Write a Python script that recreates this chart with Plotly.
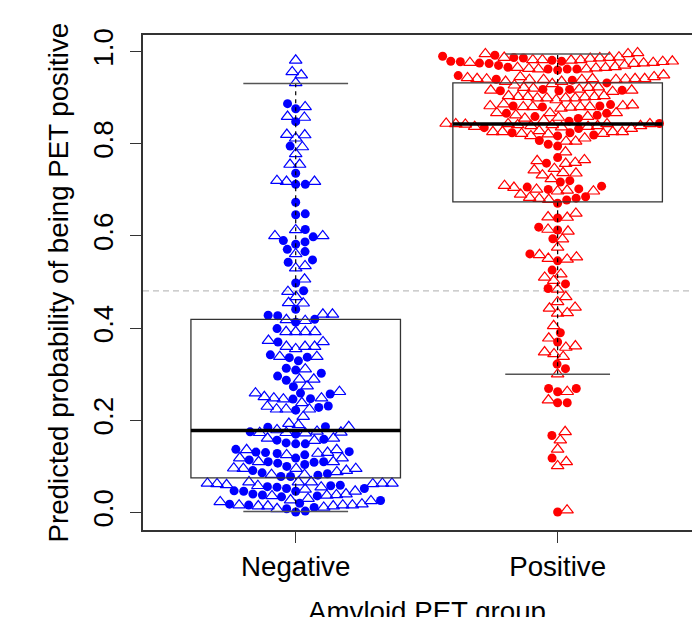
import numpy as np
import plotly.graph_objects as go

# ---------------- data ----------------
groups = ["Negative", "Positive"]
group_colors = ["#0000FF", "#FF0000"]

neg_circle = [0.887, 0.876, 0.848, 0.795, 0.736, 0.712, 0.712, 0.673, 0.648, 0.646, 0.614, 0.598,
              0.590, 0.587, 0.582, 0.571, 0.566, 0.548, 0.543, 0.498, 0.481, 0.441, 0.428, 0.427,
              0.413, 0.419, 0.399, 0.370, 0.342, 0.336, 0.329, 0.337, 0.309, 0.302, 0.313, 0.296,
              0.287, 0.273, 0.259, 0.257, 0.246, 0.247, 0.222, 0.228, 0.231, 0.186, 0.185, 0.170,
              0.175, 0.149, 0.149, 0.157, 0.151, 0.159, 0.137, 0.130, 0.125, 0.132, 0.128, 0.131,
              0.118, 0.110, 0.109, 0.107, 0.114, 0.104, 0.110, 0.084, 0.081, 0.078, 0.078, 0.086,
              0.091, 0.100, 0.059, 0.052, 0.047, 0.046, 0.056, 0.052, 0.055, 0.046, 0.058, 0.040,
              0.036, 0.034, 0.038, 0.026, 0.016, 0.008, 0.001, 0.003, 0.011, 0.018, 0.020]
neg_triangle = [0.981, 0.956, 0.949, 0.932, 0.880, 0.859, 0.857, 0.820, 0.819, 0.812, 0.793, 0.778,
                0.755, 0.755, 0.720, 0.718, 0.718, 0.613, 0.600, 0.600, 0.561, 0.535, 0.530, 0.506,
                0.479, 0.468, 0.455, 0.454, 0.430, 0.418, 0.416, 0.430, 0.392, 0.392, 0.392, 0.392,
                0.373, 0.370, 0.360, 0.360, 0.355, 0.360, 0.338, 0.338, 0.311, 0.289, 0.289, 0.274,
                0.259, 0.262, 0.251, 0.248, 0.246, 0.248, 0.238, 0.230, 0.224, 0.224, 0.224, 0.208,
                0.193, 0.186, 0.190, 0.179, 0.173, 0.176, 0.172, 0.173, 0.174, 0.161, 0.156, 0.161,
                0.136, 0.130, 0.136, 0.128, 0.125, 0.118, 0.118, 0.110, 0.110, 0.095, 0.091, 0.082,
                0.095, 0.096, 0.088, 0.095, 0.082, 0.066, 0.063, 0.063, 0.060, 0.062, 0.046, 0.055,
                0.062, 0.066, 0.050, 0.058, 0.063, 0.066, 0.038, 0.036, 0.037, 0.040, 0.025, 0.023,
                0.016, 0.014, 0.014, 0.014, 0.008, 0.011, 0.016, 0.016, 0.018, 0.027, 0.030]

pos_circle = [0.979, 0.979, 0.974, 0.970, 0.986, 0.966, 0.992, 0.990, 0.975, 0.987, 0.978, 0.981,
              0.962, 0.960, 0.962, 0.962, 0.938, 0.932, 0.948, 0.940, 0.916, 0.915, 0.918, 0.915,
              0.918, 0.880, 0.882, 0.885, 0.882, 0.866, 0.862, 0.855, 0.866, 0.859, 0.835, 0.844,
              0.849, 0.819, 0.824, 0.833, 0.817, 0.824, 0.807, 0.799, 0.795, 0.770, 0.758, 0.720,
              0.717, 0.708, 0.702, 0.701, 0.706, 0.685, 0.671, 0.678, 0.682, 0.639, 0.619, 0.613,
              0.594, 0.561, 0.546, 0.526, 0.496, 0.486, 0.390, 0.370, 0.322, 0.312, 0.269, 0.269,
              0.262, 0.238, 0.238, 0.167, 0.118, 0.001]
pos_triangle = [0.982, 0.976, 0.988, 0.982, 0.985, 0.981, 0.997, 0.987, 0.978, 0.995, 0.982, 0.986,
                0.987, 0.995, 0.974, 0.975, 0.976, 0.979, 0.962, 0.962, 0.965, 0.965, 0.967, 0.970,
                0.964, 0.963, 0.940, 0.940, 0.930, 0.927, 0.941, 0.945, 0.939, 0.941, 0.949, 0.941,
                0.945, 0.941, 0.939, 0.939, 0.935, 0.935, 0.939, 0.943, 0.923, 0.922, 0.922, 0.918,
                0.916, 0.913, 0.916, 0.920, 0.904, 0.899, 0.902, 0.899, 0.899, 0.895, 0.899, 0.901,
                0.902, 0.902, 0.904, 0.884, 0.880, 0.882, 0.886, 0.880, 0.882, 0.877, 0.880, 0.879,
                0.880, 0.867, 0.859, 0.857, 0.855, 0.867, 0.867, 0.862, 0.851, 0.833, 0.826, 0.843,
                0.843, 0.844, 0.842, 0.843, 0.839, 0.841, 0.843, 0.836, 0.841, 0.837, 0.839, 0.837,
                0.839, 0.826, 0.817, 0.821, 0.826, 0.822, 0.828, 0.822, 0.826, 0.805, 0.805, 0.812,
                0.782, 0.759, 0.763, 0.757, 0.765, 0.746, 0.743, 0.736, 0.737, 0.732, 0.724, 0.705,
                0.697, 0.697, 0.699, 0.701, 0.709, 0.690, 0.681, 0.679, 0.683, 0.641, 0.640, 0.649,
                0.610, 0.614, 0.593, 0.575, 0.554, 0.551, 0.549, 0.559, 0.517, 0.510, 0.503, 0.484,
                0.468, 0.457, 0.433, 0.445, 0.443, 0.432, 0.405, 0.378, 0.358, 0.361, 0.348, 0.344,
                0.338, 0.300, 0.262, 0.244, 0.175, 0.157, 0.137, 0.101, 0.110, 0.005]

box_q1 = [0.075, 0.674]
box_median = [0.178, 0.843]
box_q3 = [0.419, 0.932]
whisker_lo = [0.002, 0.300]
whisker_hi = [0.931, 0.995]
cutoff = 0.481

y_ticks = [0.0, 0.2, 0.4, 0.6, 0.8, 1.0]
y_tick_labels = ["0.0", "0.2", "0.4", "0.6", "0.8", "1.0"]

x_title = "Amyloid PET group"
y_title = "Predicted probability of being PET positive"

# ---------------- layout constants ----------------
W, H = 692, 617
ML, MR, MT, MB = 143, 0, 35, 87
X_RANGE = [0.417, 2.513]
Y_RANGE = [-0.038, 1.036]
px_per_x = (W - ML - MR) / (X_RANGE[1] - X_RANGE[0])
px_per_y = (H - MT - MB) / (Y_RANGE[1] - Y_RANGE[0])
SPACING = 9.6  # px between point centres (beeswarm "swarm" method)


def swarm_offsets(values):
    """R beeswarm 'swarm' method, ascending priority; returns x offsets in data units."""
    ys = np.asarray(values, dtype=float) * px_per_y
    order = np.argsort(ys, kind="stable")
    xs = np.zeros(len(ys))
    placed = []
    for idx in order:
        yi = ys[idx]
        pre = [(xs[j], ys[j]) for j in placed if abs(yi - ys[j]) < SPACING]
        if pre:
            pre.sort(key=lambda p: abs(p[0]))
            offs = [np.sqrt(SPACING ** 2 - (yi - py) ** 2) for _, py in pre]
            cands = [0.0] + [p[0] + o for p, o in zip(pre, offs)] + [p[0] - o for p, o in zip(pre, offs)]
            best, bestv = None, np.inf
            for c in cands:
                bad = any(((c - px) ** 2 + (yi - py) ** 2) < 0.999 * SPACING ** 2 for px, py in pre)
                if not bad and abs(c) < bestv - 1e-9:
                    best, bestv = c, abs(c)
            xs[idx] = best
        else:
            xs[idx] = 0.0
        placed.append(idx)
    return xs / px_per_x


FONT = "Liberation Sans, Arial, Helvetica, sans-serif"
FS = 27.7

fig = go.Figure()

series = [(neg_circle, neg_triangle), (pos_circle, pos_triangle)]
for gi, (circ, tri) in enumerate(series):
    centre = gi + 1
    allv = list(circ) + list(tri)
    offs = swarm_offsets(allv)
    oc = offs[:len(circ)]
    ot = offs[len(circ):]
    col = group_colors[gi]
    fig.add_trace(go.Scatter(
        x=centre + oc, y=circ, mode="markers", showlegend=False, hoverinfo="y",
        marker=dict(symbol="circle", size=9, color=col, line=dict(width=0)),
        cliponaxis=False))
    fig.add_trace(go.Scatter(
        x=centre + ot, y=tri, mode="markers", showlegend=False, hoverinfo="y",
        marker=dict(symbol="triangle-up-open", size=11, color=col, line=dict(width=1.2, color=col)),
        cliponaxis=False))

shapes = []
# cutoff line
shapes.append(dict(type="line", xref="paper", yref="y", x0=0, x1=1, y0=cutoff, y1=cutoff,
                   line=dict(color="#BEBEBE", width=1.2, dash="6px,4px"), layer="below"))
for gi in range(len(groups)):
    c = gi + 1
    shapes += [
        dict(type="line", xref="x", yref="y", x0=c, x1=c, y0=box_q3[gi], y1=whisker_hi[gi],
             line=dict(color="black", width=1.2, dash="4px,4px"), layer="above"),
        dict(type="line", xref="x", yref="y", x0=c, x1=c, y0=whisker_lo[gi], y1=box_q1[gi],
             line=dict(color="black", width=1.2, dash="4px,4px"), layer="above"),
        dict(type="line", xref="x", yref="y", x0=c - 0.2, x1=c + 0.2, y0=whisker_hi[gi], y1=whisker_hi[gi],
             line=dict(color="#555555", width=1.5), layer="above"),
        dict(type="line", xref="x", yref="y", x0=c - 0.2, x1=c + 0.2, y0=whisker_lo[gi], y1=whisker_lo[gi],
             line=dict(color="#555555", width=1.5), layer="above"),
        dict(type="rect", xref="x", yref="y", x0=c - 0.4, x1=c + 0.4, y0=box_q1[gi], y1=box_q3[gi],
             line=dict(color="#333333", width=1.3), fillcolor="rgba(0,0,0,0)", layer="above"),
        dict(type="line", xref="x", yref="y", x0=c - 0.4, x1=c + 0.4, y0=box_median[gi], y1=box_median[gi],
             line=dict(color="black", width=3.5), layer="above"),
    ]

annotations = [
    dict(text=y_title, xref="paper", yref="paper", x=(58 - ML) / (W - ML - MR), y=0.5,
         xanchor="center", yanchor="middle", textangle=-90, showarrow=False,
         font=dict(family=FONT, size=FS, color="black")),
    dict(text=x_title, xref="x", yref="paper", x=1.5, y=-(594 - (H - MB)) / (H - MT - MB),
         xanchor="center", yanchor="top", showarrow=False,
         font=dict(family=FONT, size=FS, color="black")),
]

fig.update_layout(
    width=W, height=H,
    margin=dict(l=ML, r=MR, t=MT, b=MB, pad=0),
    paper_bgcolor="white", plot_bgcolor="white",
    font=dict(family=FONT, size=FS, color="black"),
    shapes=shapes, annotations=annotations,
    xaxis=dict(range=X_RANGE, tickmode="array", tickvals=[1, 2], ticktext=groups,
               ticks="outside", ticklen=11, tickwidth=1.3, tickcolor="#333333",
               showline=True, linecolor="#333333", linewidth=1.5, mirror=True,
               showgrid=False, zeroline=False, tickfont=dict(family=FONT, size=FS, color="black")),
    yaxis=dict(range=Y_RANGE, tickmode="array", tickvals=y_ticks, ticktext=y_tick_labels,
               tickangle=-90, ticks="outside", ticklen=11, tickwidth=1.3, tickcolor="#333333",
               showline=True, linecolor="#333333", linewidth=1.5, mirror=False,
               ticklabelstandoff=6,
               showgrid=False, zeroline=False, tickfont=dict(family=FONT, size=FS, color="black")),
)

fig.write_html("out.html", config={"displayModeBar": False},
               post_script="document.body.style.margin='0';document.body.style.overflow='hidden';")
